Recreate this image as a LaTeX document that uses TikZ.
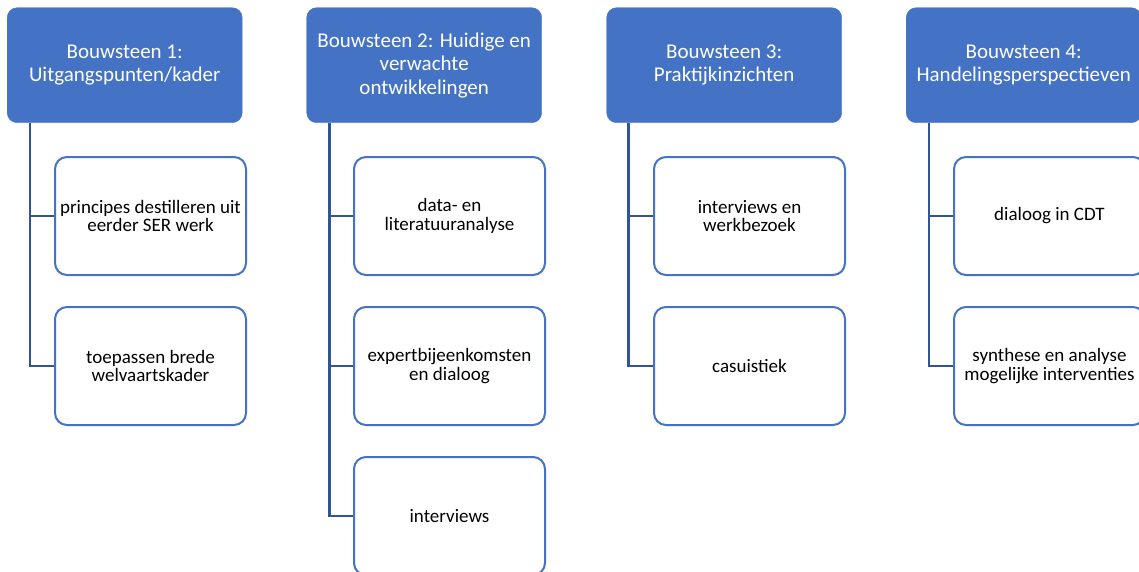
\documentclass[tikz,border=0pt]{standalone}
\usepackage{fontspec}
\setmainfont{Carlito}
\definecolor{hdr}{HTML}{4472C4}
\definecolor{stemc}{HTML}{2F5597}
\begin{document}
\begin{tikzpicture}[x=1pt,y=1pt,
  header/.style={rectangle, rounded corners=10pt, fill=hdr, draw=hdr, text=white,
    minimum width=235pt, minimum height=115pt, inner sep=2pt, align=center,
    font=\fontsize{21}{23.5}\selectfont, anchor=north west},
  child/.style={rectangle, rounded corners=12pt, draw=hdr, line width=2pt, fill=white,
    minimum width=191pt, minimum height=118pt, inner sep=2pt, align=center,
    font=\fontsize{19}{18.5}\selectfont, anchor=north west},
  stem/.style={draw=stemc, line width=2.6pt}]
\clip (0,0) rectangle (1139,-571);
\fill[white] (0,0) rectangle (1139,-571);
% headers
\node[header] (h1) at (7,-7.5) {Bouwsteen 1:\\Uitgangspunten/kader};
\node[header] (h2) at (306.5,-7.5) {Bouwsteen 2: Huidige en\\verwachte\\ontwikkelingen};
\node[header] (h3) at (606.5,-7.5) {Bouwsteen 3:\\Praktijkinzichten};
\node[header] (h4) at (906,-7.5) {Bouwsteen 4:\\Handelingsperspectieven};
% stem tops
\coordinate (s1) at ([xshift=23pt]h1.south west);
\coordinate (s2) at ([xshift=23pt]h2.south west);
\coordinate (s3) at ([xshift=22pt]h3.south west);
\coordinate (s4) at ([xshift=23pt]h4.south west);
% children
\node[child] (c11) at (54,-156) {principes destilleren uit\\eerder SER werk};
\node[child] (c12) at (54,-306) {toepassen brede\\welvaartskader};
\node[child] (c21) at (353,-156) {data- en\\literatuuranalyse};
\node[child] (c22) at (353,-306) {expertbijeenkomsten\\en dialoog};
\node[child] (c23) at (353,-456) {interviews};
\node[child] (c31) at (653,-156) {interviews en\\werkbezoek};
\node[child] (c32) at (653,-306) {casuistiek};
\node[child] (c41) at (953,-156) {dialoog in CDT};
\node[child] (c42) at (953,-306) {synthese en analyse\\mogelijke interventies};
% connectors
\draw[stem] (s1) |- (c12.west);
\draw[stem] (s1 |- c11.west) -- (c11.west);
\draw[stem] (s2) |- (c23.west);
\draw[stem] (s2 |- c21.west) -- (c21.west);
\draw[stem] (s2 |- c22.west) -- (c22.west);
\draw[stem] (s3) |- (c32.west);
\draw[stem] (s3 |- c31.west) -- (c31.west);
\draw[stem] (s4) |- (c42.west);
\draw[stem] (s4 |- c41.west) -- (c41.west);
\end{tikzpicture}
\end{document}
